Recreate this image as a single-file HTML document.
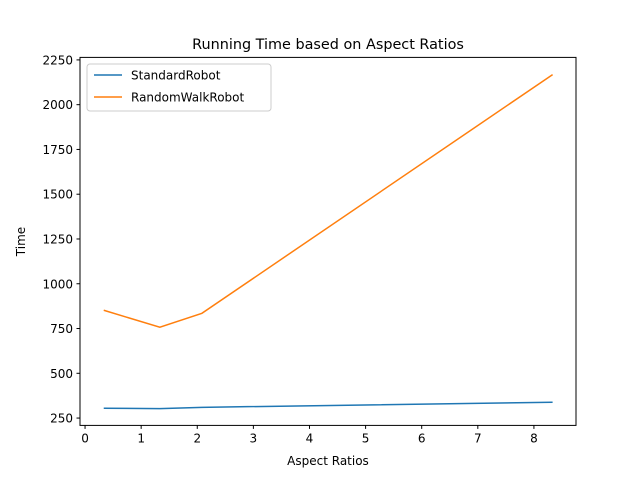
<!DOCTYPE html>
<html><head><meta charset="utf-8"><style>
body{margin:0;background:#fff;}
svg text{font-family:"DejaVu Sans","Liberation Sans",sans-serif;fill:#000;}
</style></head><body>
<svg id="chart" width="640" height="478" xmlns="http://www.w3.org/2000/svg">
<rect x="0" y="0" width="640" height="478" fill="#fff"/>
<text x="328" y="49" font-size="14.4" text-anchor="middle">Running Time based on Aspect Ratios</text>
<g id="plot"></g>
<rect x="80" y="57.4" width="496" height="368" fill="none" stroke="#000" stroke-width="1"/>
<text x="328" y="465" font-size="12" text-anchor="middle">Aspect Ratios</text>
<text transform="translate(25,241.5) rotate(-90)" font-size="12" text-anchor="middle">Time</text>
<g>
<rect x="87" y="64" width="184" height="47" rx="3" fill="#fff" fill-opacity="0.8" stroke="#ccc"/>
<line x1="94" y1="75" x2="122" y2="75" stroke="#1f77b4" stroke-width="1.5"/>
<text x="131" y="79.5" font-size="12">StandardRobot</text>
<line x1="94" y1="97" x2="122" y2="97" stroke="#ff7f0e" stroke-width="1.5"/>
<text x="131" y="101.5" font-size="12">RandomWalkRobot</text>
</g>
</svg>
<script>
const xValues=[0.333,1.333,2.083,8.333];
const standardRobot=[305,303,310,338];
const randomWalkRobot=[852,757,835,2168];
const xTicks=[0,1,2,3,4,5,6,7,8];
const yTicks=[250,500,750,1000,1250,1500,1750,2000,2250];
const NS="http://www.w3.org/2000/svg";
const xMin=-0.09,xMax=8.75,yMin=209,yMax=2264;
const L=80,R=576,T=57.4,B=425.4;
function sx(v){return L+(v-xMin)/(xMax-xMin)*(R-L);}
function sy(v){return B-(v-yMin)/(yMax-yMin)*(B-T);}
const g=document.getElementById('plot');
function mk(t,a){const e=document.createElementNS(NS,t);for(const k in a)e.setAttribute(k,a[k]);g.appendChild(e);return e;}
xTicks.forEach(v=>{
 const x=sx(v);
 const l=mk('line',{x1:x,x2:x,y1:B,y2:B+3.5,stroke:'#000'});
 
 
 const t=mk('text',{x:x,y:B+17,'font-size':12,'text-anchor':'middle'});
 t.textContent=v;
 
 
});
yTicks.forEach(v=>{
 const y=sy(v);
 const l=mk('line',{x1:L-3.5,x2:L,y1:y,y2:y,stroke:'#000'});
 
 
 const t=mk('text',{x:L-7,y:y+4.5,'font-size':12,'text-anchor':'end'});
 t.textContent=v;
 
 
});
function series(vals,color,name){
 const p=mk('polyline',{points:vals.map((v,i)=>sx(xValues[i])+','+sy(v)).join(' '),fill:'none',stroke:color,'stroke-width':1.5});
 
 
}
series(standardRobot,'#1f77b4','standard-robot-line');
series(randomWalkRobot,'#ff7f0e','random-walk-robot-line');
</script>
</body></html>
